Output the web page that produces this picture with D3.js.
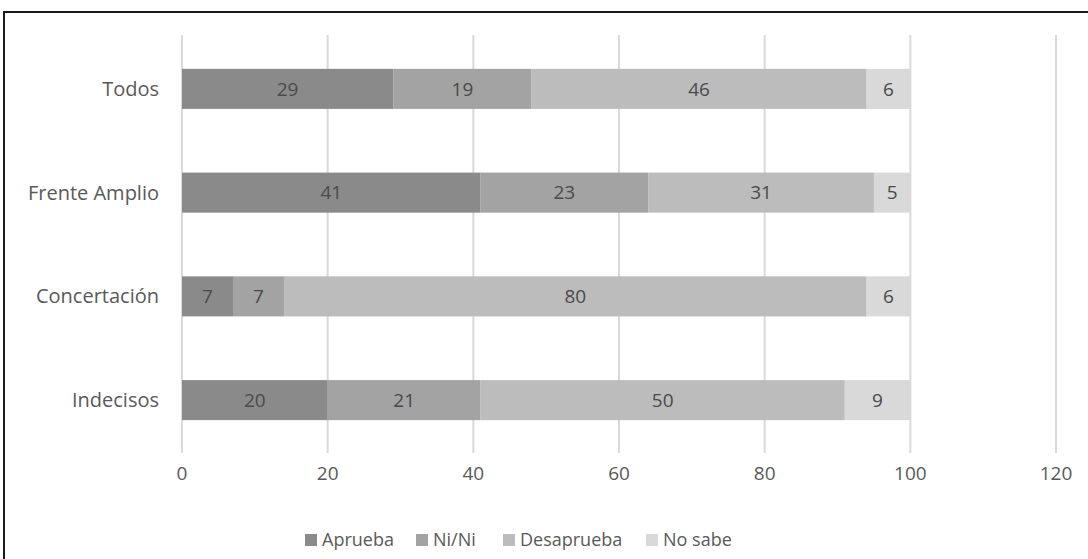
<!DOCTYPE html>
<html><head><meta charset="utf-8">
<script src="https://cdn.jsdelivr.net/npm/d3@7"></script>
<style>body{margin:0;background:#fff}svg{display:block}text{font-family:"Open Sans",sans-serif}</style>
</head><body><svg id="c" width="1088" height="559"></svg>
<script>
const categories = ["Todos", "Frente Amplio", "Concertación", "Indecisos"];
const seriesNames = ["Aprueba", "Ni/Ni", "Desaprueba", "No sabe"];
const aprueba = [29, 41, 7, 20];
const niNi = [19, 23, 7, 21];
const desaprueba = [46, 31, 80, 50];
const noSabe = [6, 5, 6, 9];
const xTicks = [0, 20, 40, 60, 80, 100, 120];
const colors = ["#8a8a8a", "#a3a3a3", "#bcbcbc", "#d9d9d9"];

const rows = categories.map((c, i) => ({cat: c, "Aprueba": aprueba[i], "Ni/Ni": niNi[i], "Desaprueba": desaprueba[i], "No sabe": noSabe[i]}));
const stack = d3.stack().keys(seriesNames)(rows);

const svg = d3.select("#c");
svg.append("rect").attr("x", 4).attr("y", 12).attr("width", 1200).attr("height", 700)
  .attr("fill", "none").attr("stroke", "#1a1a1a").attr("stroke-width", 2);

const x = d3.scaleLinear().domain([0, 120]).range([182, 1056]);
const y = d3.scaleBand().domain(categories).range([37, 452]).paddingInner(0.614).paddingOuter(0.307);

// gridlines
svg.append("g").selectAll("line").data(xTicks).join("line")
  .attr("x1", d => x(d)).attr("x2", d => x(d)).attr("y1", 35).attr("y2", 453)
  .attr("stroke", "#d9d9d9").attr("stroke-width", 2);

// bars
const g = svg.append("g");
stack.forEach((s, si) => {
  g.append("g").selectAll("rect").data(s).join("rect")
    .attr("x", d => x(d[0])).attr("width", d => x(d[1]) - x(d[0]))
    .attr("y", d => y(d.data.cat)).attr("height", y.bandwidth())
    .attr("fill", colors[si]);
  g.append("g").selectAll("text").data(s).join("text")
    .attr("x", d => (x(d[0]) + x(d[1])) / 2).attr("y", d => y(d.data.cat) + y.bandwidth() / 2)
    .attr("dy", "0.35em").attr("text-anchor", "middle")
    .attr("font-size", 19).attr("fill", "#4a4a4a")
    .text(d => d[1] - d[0]);
});

// x axis labels
svg.append("g").selectAll("text").data(xTicks).join("text")
  .attr("x", d => x(d)).attr("y", 473).attr("dy", "0.35em").attr("text-anchor", "middle")
  .attr("font-size", 19).attr("fill", "#595959").text(d => d);

// category labels
svg.append("g").selectAll("text").data(categories).join("text")
  .attr("x", 159).attr("y", d => y(d) + y.bandwidth() / 2).attr("dy", "0.35em")
  .attr("text-anchor", "end").attr("font-size", 20).attr("fill", "#595959").text(d => d);

// legend
const legX = [322, 433, 520, 663];
const lg = svg.append("g").selectAll("g").data(seriesNames).join("g")
  .attr("transform", (d, i) => `translate(${legX[i]},540)`);
lg.append("rect").attr("x", -17).attr("y", -6).attr("width", 12).attr("height", 12).attr("fill", (d, i) => colors[i]);
lg.append("text").attr("x", 0).attr("y", 0).attr("dy", "0.35em").attr("font-size", 18)
  .attr("fill", "#595959").text(d => d);
</script></body></html>
